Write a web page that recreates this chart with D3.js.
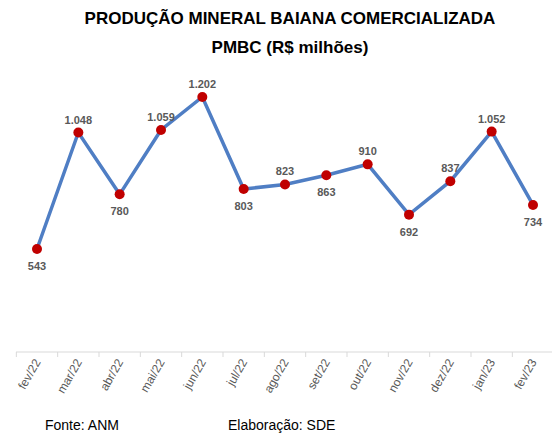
<!DOCTYPE html>
<html><head><meta charset="utf-8">
<script src="https://cdn.jsdelivr.net/npm/d3@7"></script>
<style>body{margin:0;background:#fff}</style>
</head><body>
<svg id="c" width="552" height="440"></svg>
<script>
var meses = ['fev/22','mar/22','abr/22','mai/22','jun/22','jul/22','ago/22','set/22','out/22','nov/22','dez/22','jan/23','fev/23'];
var valores = [543, 1048, 780, 1059, 1202, 803, 823, 863, 910, 692, 837, 1052, 734];
var rotulos = ['543','1.048','780','1.059','1.202','803','823','863','910','692','837','1.052','734'];

var svg = d3.select('#c');
var x = d3.scalePoint().domain(meses).range([37, 533]);
var y = d3.scaleLinear().domain([543, 1202]).range([249, 97]);
var base = 352;

svg.append('text').attr('x', 290).attr('y', 24).attr('text-anchor', 'middle')
	.attr('font-family', 'Liberation Sans, Arial').attr('font-weight', 'bold').attr('font-size', 17)
	.text('PRODUÇÃO MINERAL BAIANA COMERCIALIZADA');
svg.append('text').attr('x', 290).attr('y', 53).attr('text-anchor', 'middle')
	.attr('font-family', 'Liberation Sans, Arial').attr('font-weight', 'bold').attr('font-size', 17)
	.text('PMBC (R$ milhões)');

svg.append('line').attr('x1', 16).attr('x2', 554).attr('y1', base).attr('y2', base)
	.attr('stroke', '#d9d9d9').attr('stroke-width', 1);
var step = x.step();
meses.concat(['']).forEach(function(m, i){
	var xx = 37 - step/2 + i*step;
	svg.append('line').attr('x1', xx).attr('x2', xx).attr('y1', base).attr('y2', base+5).attr('stroke', '#d9d9d9');
});

svg.append('path').datum(valores)
	.attr('fill', 'none').attr('stroke', '#4f7ec4').attr('stroke-width', 3.5)
	.attr('d', d3.line().x(function(d, i){ return x(meses[i]); }).y(function(d){ return y(d); }));

svg.selectAll('.pt').data(valores).enter().append('circle')
	.attr('cx', function(d, i){ return x(meses[i]); }).attr('cy', function(d){ return y(d); })
	.attr('r', 5).attr('fill', '#c00000');

// rótulos acima ou abaixo conforme vizinhos
var abaixo = [1,0,1,0,0,1,0,1,0,1,0,0,1];
svg.selectAll('.lb').data(valores).enter().append('text')
	.attr('x', function(d, i){ return x(meses[i]); })
	.attr('y', function(d, i){ return abaixo[i] ? y(d) + 21 : y(d) - 9; })
	.attr('text-anchor', 'middle').attr('font-family', 'Liberation Sans, Arial')
	.attr('font-weight', 'bold').attr('font-size', 11).attr('fill', '#595959')
	.text(function(d, i){ return rotulos[i]; });

svg.selectAll('.xl').data(meses).enter().append('text')
	.attr('transform', function(d){ return 'translate(' + (x(d) + 4) + ',' + (base + 10) + ') rotate(-60)'; })
	.attr('text-anchor', 'end').attr('font-family', 'Liberation Sans, Arial')
	.attr('font-size', 12).attr('fill', '#595959').text(function(d){ return d; });

svg.append('text').attr('x', 45).attr('y', 430).attr('font-family', 'Liberation Sans, Arial')
	.attr('font-size', 14).text('Fonte: ANM');
svg.append('text').attr('x', 228).attr('y', 430).attr('font-family', 'Liberation Sans, Arial')
	.attr('font-size', 14).text('Elaboração: SDE');
</script>
</body></html>
